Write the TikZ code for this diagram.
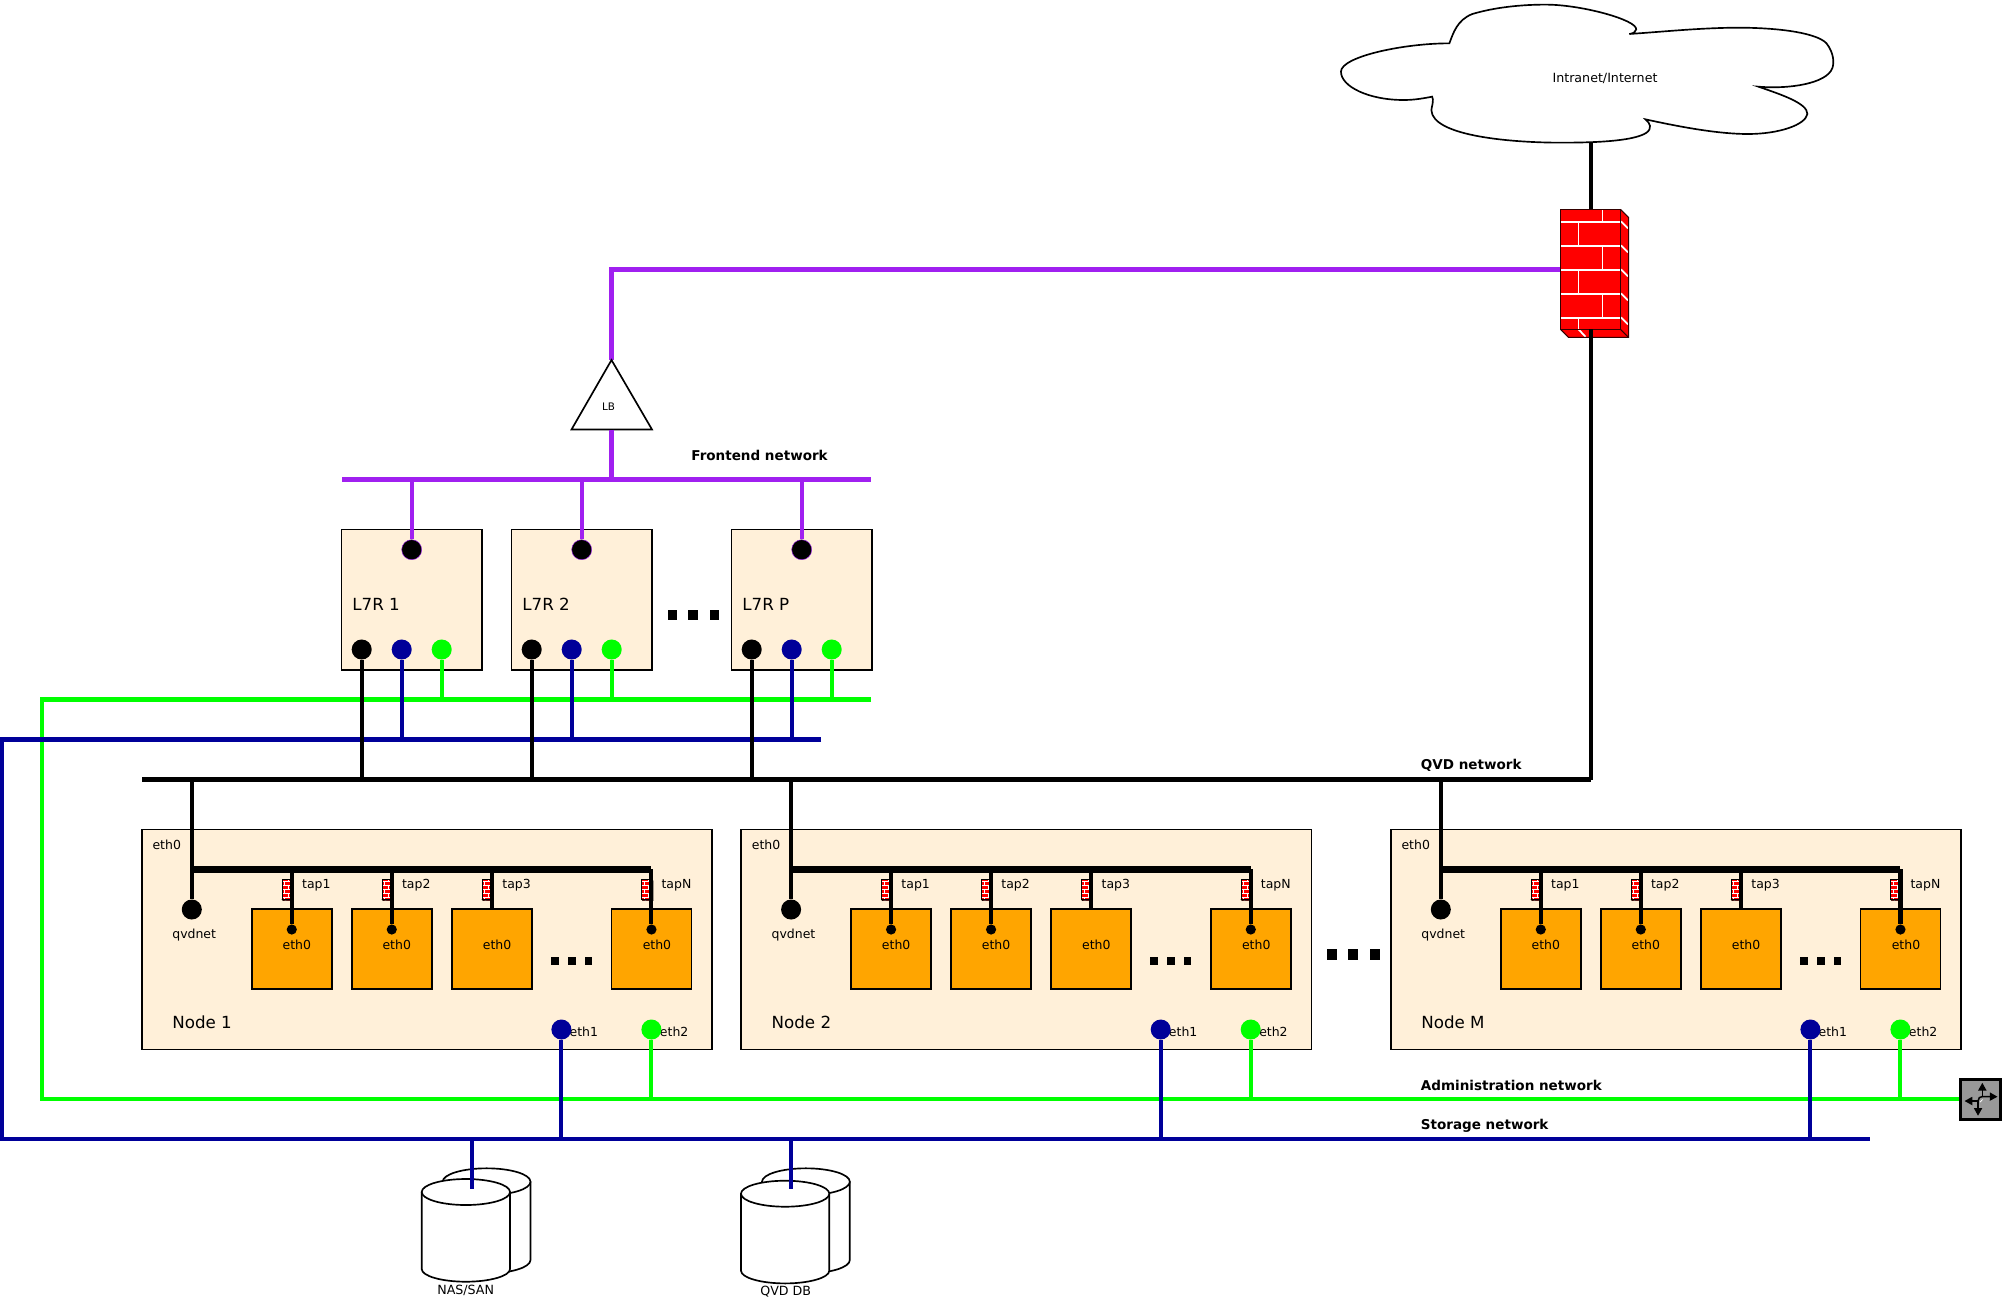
\documentclass[tikz,border=0pt]{standalone}
\usepackage{fontspec}
\setmainfont{DejaVu Sans}
\usetikzlibrary{arrows.meta,calc}
\definecolor{cream}{HTML}{FFF0D9}
\definecolor{vmorange}{HTML}{FFA500}
\definecolor{purp}{HTML}{A020F0}
\definecolor{netblue}{HTML}{000099}
\definecolor{netgreen}{HTML}{00FF00}
\definecolor{bricks}{HTML}{FF0000}
\definecolor{routergray}{HTML}{999999}
\newcommand{\fsz}[1]{\fontsize{#1}{#1}\selectfont}
\tikzset{
  bus/.style={line width=2.3pt},
  frontbus/.style={bus,draw=purp,line join=miter},
  adminbus/.style={bus,draw=netgreen,line join=miter},
  storebus/.style={bus,draw=netblue,line join=miter},
  qvdbus/.style={bus,draw=black},
  portdot/.style={circle,inner sep=0pt,minimum size=11.4pt,fill=#1},
  vmdot/.style={circle,inner sep=0pt,minimum size=5.8pt,fill=black},
  box/.style={draw=black,line width=.95pt,fill=cream,anchor=north west,inner sep=0pt,outer sep=0pt},
  l7rbox/.style={box,minimum width=80pt,minimum height=80pt},
  nodebox/.style={box,minimum width=324.6pt,minimum height=125.2pt},
  vmbox/.style={draw=black,line width=.95pt,fill=vmorange,anchor=north west,inner sep=0pt,outer sep=0pt,minimum width=45.6pt,minimum height=45.7pt},
  lbl/.style={anchor=west,inner sep=0pt,font=\fsz{7.1}},
  big/.style={anchor=west,inner sep=0pt,font=\fsz{9.5}},
  netlbl/.style={anchor=west,inner sep=0pt,font=\fsz{7.7}\bfseries},
  centerlbl/.style={inner sep=0pt,font=\fsz{7.2}},
  sq/.style={fill=black,draw=none},
  mortar/.style={draw=white,line width=1pt},
  fwedge/.style={draw=black!80!red,line width=.6pt},
  diskline/.style={draw=black,line width=.95pt,fill=white,line join=round},
  pics/firewall/.style={code={
    \path[fill=bricks] (0,0) rectangle (60,120);
    \path[fill=bricks] (60,0) -- (68,8) -- (68,128) -- (8,128) -- (0,120) -- (60,120) -- cycle;
    \foreach \yy in {12.7,36.7,60.7,84.7,108.7}{\draw[mortar] (0,\yy) -- (60,\yy);}
    \foreach \ya/\yb in {0/12.7,36.7/60.7,84.7/108.7}{\draw[mortar] (42,\ya) -- (42,\yb);}
    \foreach \ya/\yb in {12.7/36.7,60.7/84.7,108.7/120}{\draw[mortar] (18,\ya) -- (18,\yb);}
    \foreach \yy in {12,36,60,84,108}{\draw[mortar] (60.5,\yy) -- (67.5,\yy+7);}
    \draw[mortar] (18,120) -- (25,127.5);
    \draw[fwedge] (0,0) rectangle (60,120);
    \draw[fwedge] (60,0) -- (68,8) -- (68,128) -- (8,128) -- (0,120);
    \draw[fwedge] (60,120) -- (68,128);
  }}
}
\begin{document}
\begin{tikzpicture}[x=0.02cm,y=-0.02cm]
\useasboundingbox (0,0) rectangle (2003,1302);
% ---- reference coordinates of the buses
\coordinate (frontbusL) at (342,479.5);
\coordinate (frontbusR) at (871,479.5);
\coordinate (adminL) at (42,699.5);
\coordinate (adminR) at (871,699.5);
\coordinate (storeL) at (2,739.5);
\coordinate (storeR) at (821,739.5);
\coordinate (qvdL) at (142,779.5);
\coordinate (qvdR) at (1591,779.5);
\coordinate (admin2L) at (42,1098.5);
\coordinate (store2L) at (2,1138.5);
\coordinate (store2R) at (1870,1138.5);
\coordinate (wanbend) at (611.5,269.5);

% ---- cloud
\begin{scope}[shift={(1300,0)},x=0.007654cm,y=-0.006667cm]
\draw[line width=.95pt,fill=white] (390,130) .. controls (400,100) and (410,60) .. (450,42)
 .. controls (520,18) and (600,13) .. (650,14) .. controls (740,16) and (880,60) .. (878,88)
 .. controls (877,97) and (870,100) .. (860,102) .. controls (950,95) and (1050,83) .. (1150,83)
 .. controls (1260,84) and (1350,100) .. (1375,130) .. controls (1395,160) and (1395,190) .. (1390,205)
 .. controls (1375,250) and (1280,268) .. (1197,260) .. controls (1260,285) and (1325,310) .. (1325,342)
 .. controls (1320,375) and (1250,402) .. (1170,402) .. controls (1090,402) and (990,380) .. (902,358)
 .. controls (915,370) and (920,385) .. (905,398) .. controls (870,425) and (760,428) .. (680,428)
 .. controls (560,428) and (345,410) .. (343,330) .. controls (345,315) and (350,300) .. (345,290)
 .. controls (310,298) and (290,300) .. (270,300) .. controls (180,300) and (107,260) .. (107,215)
 .. controls (107,170) and (270,130) .. (390,130) -- cycle;
\end{scope}
\node[centerlbl] (inet) at (1605,78.5) {Intranet/Internet};
\coordinate (cloudbottom) at (1591,142);

% ---- firewall and WAN links
\coordinate (fwtop) at (1591,209);
\coordinate (fwbelow) at (1591,329);
\coordinate (fwleft) at (1560.5,269.5);
\coordinate (lbtop) at (611.5,360);
\coordinate (lbbase) at (611.5,429.5);
\draw[qvdbus] (cloudbottom) -- (fwtop);
\draw[frontbus] (fwleft) -- (wanbend) -- (lbtop);
\pic at (1560.5,209.3) {firewall};
\draw[qvdbus] (fwbelow) -- (qvdR);

% ---- load balancer
\draw[line width=.95pt,fill=white,line join=miter] (lbtop) -- (652,429.5) -- (571.5,429.5) -- cycle;
\node[inner sep=0pt,font=\fsz{5.9}] (lb) at (608.6,406.5) {LB};
\draw[frontbus] (lbbase) -- (lbbase |- frontbusL);

% ---- buses
\draw[frontbus] (frontbusL) -- (frontbusR);
\coordinate (admin2R) at (1962,1098.5);
\draw[adminbus] (adminR) -- (adminL) -- (admin2L) -- (admin2R);
\draw[storebus] (storeR) -- (storeL) -- (store2L) -- (store2R);

\node[netlbl] (fenet) at (691,455.5) {Frontend network};
\node[netlbl] (qvdnetl) at (1420.5,765.5) {QVD network};
\node[netlbl] (admnetl) at (1420.5,1085.5) {Administration network};
\node[netlbl] (stonetl) at (1420.5,1125.5) {Storage network};

% ---- L7R boxes
\foreach \xx/\id/\txt in {341.5/a/L7R 1,511.5/b/L7R 2,731.5/c/L7R P}{
  \begin{scope}[shift={(\xx,0)}]
  \node[l7rbox] (l7r\id) at (0,529.5) {};
  \node[big] (l7r\id lbl) at (10.5,604) {\txt};
  \node[portdot=black,draw=purp,line width=.25pt] (l7r\id top) at (70.2,549.7) {};
  \node[portdot=black] (l7r\id k) at (20.2,649.5) {};
  \node[portdot=netblue] (l7r\id b) at (60.2,649.5) {};
  \node[portdot=netgreen] (l7r\id g) at (100.2,649.5) {};
  \end{scope}
  \draw[frontbus] (l7r\id top |- frontbusL) -- (l7r\id top.north);
  \draw[adminbus] (l7r\id g) -- (l7r\id g |- adminL);
  \draw[storebus] (l7r\id b) -- (l7r\id b |- storeL);
  \draw[qvdbus] (l7r\id k) -- (l7r\id k |- qvdL);
}
\foreach \xa in {667.5,688.3,709.8}{\fill[sq] (\xa,609.5) rectangle +(9.3,10.7);}

% ---- QVD bus drawn over the L7R droppers
\draw[qvdbus] (qvdL) -- (qvdR);

% ---- compute nodes
\foreach \ox/\id/\txt in {0/a/Node 1,599.3/b/Node 2,1249/c/Node M}{
  \begin{scope}[shift={(\ox,0)}]
  \node[nodebox] (n\id) at (141.8,829.5) {};
  \node[lbl] (n\id eth) at (152.2,844.7) {eth0};
  \node[big] (n\id lbl) at (172,1022.7) {\txt};
  \node[lbl] (n\id qvd) at (172,935) {qvdnet};
  \node[portdot=black] (n\id qdot) at (191.8,909.5) {};
  \coordinate (n\id barL) at (191.8,869.3);
  \coordinate (n\id barR) at (651.4,869.3);
  % VMs
  \foreach \vx/\vid/\tap/\tapx/\ex in {251.7/p/tap1/301.8/282.3,351.7/q/tap2/401.7/382.2,451.7/r/tap3/502/482.5,611.4/s/tapN/661.2/642.4}{
    \node[vmbox] (vm\id\vid) at (\vx,909) {};
    \node[lbl] (e\id\vid) at (\ex,944.7) {eth0};
    \node[lbl] (t\id\vid) at (\tapx,885) {\tap};
    \pic[scale=.1667,mortar/.style={draw=white,line width=.6pt},fwedge/.style={draw=black,line width=.35pt}] at (\vx+30.2,879.3) {firewall};
  }
  \foreach \vid in {p,q,s}{
    \node[vmdot] (d\id\vid) at ($(vm\id\vid.north)+(0,20.5)$) {};
    \draw[bus,draw=black] (d\id\vid |- n\id barL) -- (d\id\vid);
  }
  \draw[bus,draw=black] (vm\id r.north |- n\id barL) -- (vm\id r.north);
  \draw[line width=3.9pt] (n\id barL) -- (n\id barR);
  \foreach \xa in {551,568,584.5}{\fill[sq] (\xa,956.7) rectangle +(7.5,8);}
  \node[lbl] (n\id ethb) at (569.3,1031.7) {eth1};
  \node[lbl] (n\id ethc) at (659.6,1031.7) {eth2};
  \node[portdot=netblue] (n\id b) at (561.4,1029.5) {};
  \node[portdot=netgreen] (n\id g) at (651.4,1029.5) {};
  \end{scope}
  \draw[qvdbus] (n\id barL |- qvdL) -- (n\id qdot);
  \draw[adminbus] (n\id g) -- (n\id g |- admin2L);
  \draw[storebus] (n\id b) -- (n\id b |- store2L);
}
\foreach \xa in {1326.7,1347.5,1369.8}{\fill[sq] (\xa,949.3) rectangle +(10.2,10.7);}

% ---- router
\node[draw=black,line width=1.7pt,fill=routergray,anchor=north west,inner sep=0pt,outer sep=0pt,minimum width=22.9pt,minimum height=22.9pt] (router) at (1960.2,1079.4) {};
\begin{scope}[line width=.85pt,-{Triangle[length=4.4pt,width=4.6pt]}]
\draw (1982.3,1096.5) -- (1982.3,1082.8);
\draw (1982.3,1096.5) -- (1997.5,1096.7);
\draw (1978,1101) -- (1964.5,1101);
\draw (1978,1101) -- (1978,1115.8);
\draw[-] (1978,1101) .. controls (1978,1098) and (1980,1096.5) .. (1982.3,1096.5);
\end{scope}
\draw[white,line width=.45pt] (1980.2,1102) .. controls (1981.5,1101.5) and (1982,1100.5) .. (1982.5,1099.5);

% ---- disks
\foreach \fx/\dy/\id/\txt/\lx/\ly/\bx in {421.7/0/a/NAS\slash SAN/465.7/1290.7/471.7,741/1.7/b/QVD DB/785.7/1291.7/791.3}{
  \begin{scope}[shift={(\fx,0)}]
  % back cylinder
  \draw[diskline] (21,1181.7) -- (21,1260) .. controls (21,1267.4) and (40.6,1273.4) .. (65,1273.4)
     .. controls (89,1273.4) and (108.8,1267.4) .. (108.8,1260) -- (108.8,1181.7) -- cycle;
  \draw[diskline] (64.9,1181.7) ellipse [x radius=43.9,y radius=13.4];
  \end{scope}
  \begin{scope}[shift={(\fx,\dy)}]
  % front cylinder
  \draw[diskline] (0,1192) -- (0,1269) .. controls (0,1276) and (20,1281.7) .. (44.2,1281.7) .. controls (68,1281.7) and (88.3,1276) .. (88.3,1269) -- (88.3,1192) -- cycle;
  \draw[diskline] (44.15,1192) ellipse [x radius=44.15,y radius=13];
  \end{scope}
  \coordinate (disk\id top) at (\bx,1188.5);
  \draw[storebus] (disk\id top |- store2L) -- (disk\id top);
  \node[centerlbl] (disk\id) at (\lx,\ly) {\txt};
}
\end{tikzpicture}
\end{document}
